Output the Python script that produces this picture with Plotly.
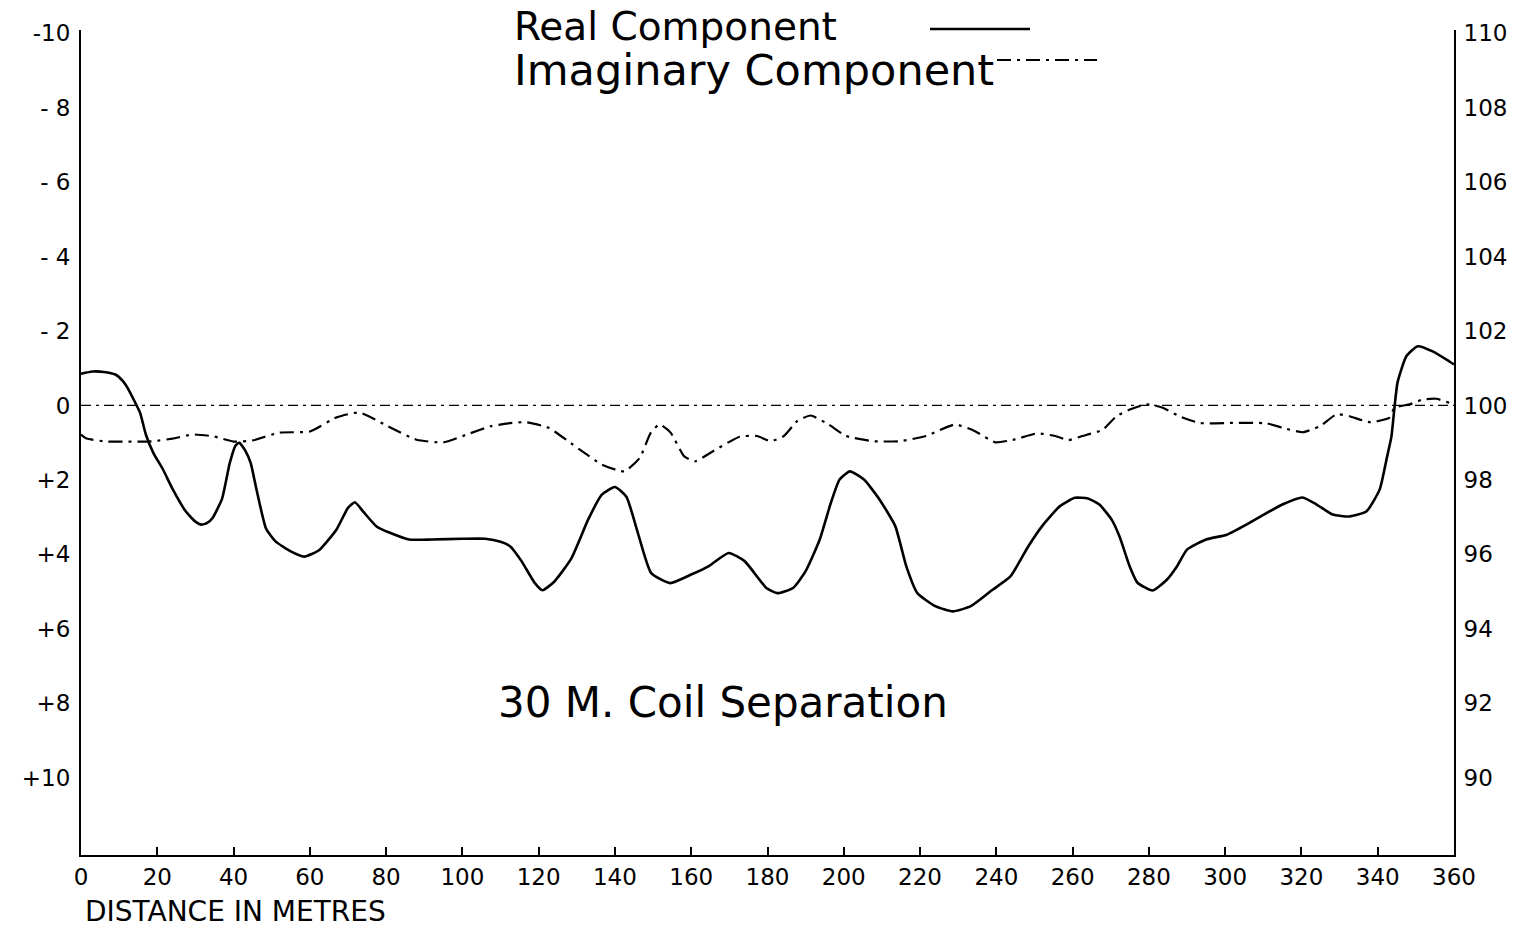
import plotly.graph_objects as go

# ---------------- data ----------------
distance_ticks = list(range(0, 361, 20))

left_tick_vals = [-10, -8, -6, -4, -2, 0, 2, 4, 6, 8, 10]
left_tick_text = ["-10", "- 8", "- 6", "- 4", "- 2", "0", "+2", "+4", "+6", "+8", "+10"]
right_tick_vals = [110, 108, 106, 104, 102, 100, 98, 96, 94, 92, 90]
right_tick_text = [str(v) for v in right_tick_vals]

real_x = [0, 3, 6, 9, 11, 12.5, 14, 15.5, 17, 19, 21.5, 24, 27.5, 30, 31.5, 33, 34.5,
          37, 39, 40.5, 41.5, 43, 44.5, 46, 48.5, 51, 55, 58.5, 62.5, 67, 70, 71.8,
          74, 77.5, 81, 86, 92, 100, 106, 110, 112.5, 115.5, 119, 121, 124, 128.5,
          133, 136.5, 140, 143, 146, 149.5, 154.5, 160, 164.5, 169.8, 174, 179.7,
          182.6, 186.7, 190, 193.7, 196.6, 198.9, 201.6, 205.3, 209.4, 213.5, 216.4,
          219.3, 224, 228.6, 233.3, 239, 243.7, 248.4, 252, 256.6, 260.6, 264, 267,
          270.2, 272.3, 275, 277, 281, 284.7, 287.3, 290, 295, 300.4, 306.4, 315,
          320.3, 324, 328.2, 332.6, 337, 340.5, 342.3, 343.6, 344.4, 345.2, 347.5,
          350.5, 354.4, 358.8, 360]
real_y = [-0.85, -0.91, -0.9, -0.83, -0.65, -0.42, -0.12, 0.2, 0.78, 1.28, 1.72, 2.24,
          2.85, 3.12, 3.2, 3.16, 3.02, 2.5, 1.55, 1.08, 1.0, 1.2, 1.55, 2.25, 3.3, 3.65,
          3.92, 4.06, 3.88, 3.33, 2.75, 2.6, 2.85, 3.25, 3.42, 3.6, 3.6, 3.58, 3.58,
          3.66, 3.78, 4.18, 4.77, 4.96, 4.74, 4.12, 3.06, 2.4, 2.19, 2.45, 3.42, 4.5,
          4.77, 4.54, 4.32, 3.96, 4.18, 4.9, 5.04, 4.9, 4.45, 3.6, 2.62, 1.99, 1.77,
          1.99, 2.53, 3.24, 4.32, 5.04, 5.39, 5.53, 5.39, 4.95, 4.59, 3.78, 3.24, 2.71,
          2.48, 2.5, 2.66, 3.06, 3.52, 4.33, 4.76, 4.97, 4.68, 4.33, 3.87, 3.6, 3.47,
          3.15, 2.66, 2.47, 2.66, 2.93, 2.98, 2.85, 2.26, 1.45, 0.83, 0.05, -0.62,
          -1.32, -1.59, -1.45, -1.18, -1.1]

imag_x = [0, 1.5, 6.8, 13.7, 19, 24, 29.4, 34.7, 40, 45, 52, 60, 67, 73, 80.5, 88, 95,
          102, 107.4, 112, 116.7, 122.6, 130.7, 136.6, 142.4, 146.5, 149.4, 151.7,
          154.6, 158.1, 161, 165.7, 172.7, 177.3, 180.8, 184.3, 187.8, 191.3, 196,
          200.6, 207.6, 214.6, 221.6, 229.2, 234.4, 239.7, 244.9, 250.7, 255.4, 258.9,
          262.6, 267.9, 271.5, 275, 279.4, 283.6, 288, 293.3, 302, 310.9, 315.1, 320.3,
          324.8, 329.2, 332.6, 337.9, 343.1, 344.4, 348.4, 351.8, 355.4, 358.8, 360]
imag_y = [0.78, 0.89, 0.97, 0.97, 0.96, 0.89, 0.78, 0.83, 0.97, 0.94, 0.73, 0.7, 0.32,
          0.19, 0.56, 0.92, 0.99, 0.75, 0.56, 0.48, 0.45, 0.6, 1.18, 1.59, 1.77, 1.41,
          0.73, 0.51, 0.73, 1.36, 1.5, 1.23, 0.84, 0.82, 0.96, 0.82, 0.42, 0.27, 0.51,
          0.82, 0.96, 0.96, 0.82, 0.51, 0.69, 0.99, 0.91, 0.75, 0.82, 0.93, 0.82, 0.65,
          0.29, 0.11, -0.03, 0.06, 0.29, 0.47, 0.47, 0.48, 0.6, 0.72, 0.56, 0.24, 0.29,
          0.45, 0.33, 0.06, -0.03, -0.16, -0.18, -0.07, -0.05]

# ---------------- layout geometry ----------------
# the page body has an 8px default margin, so the figure is shrunk and shifted by it
OFF = 8
W, H = 1522 - OFF, 934 - OFF
ML, MR, MT, MB = 81 - OFF, 68, 30 - OFF, 79
PW, PH = W - ML - MR, H - MT - MB
FONT = "DejaVu Sans"
DASHDOT = "14px,6px,3px,6px"


def px_x(p):
    # p: page pixel x in the reference
    return (p - OFF - ML) / PW


def px_y(p):
    # p: page pixel y in the reference
    return (H - MB - (p - OFF)) / PH


fig = go.Figure()

fig.add_trace(go.Scatter(
    x=real_x, y=real_y, mode="lines", name="Real Component",
    line=dict(color="black", width=2.6, shape="spline", smoothing=0.5),
    showlegend=False,
))
fig.add_trace(go.Scatter(
    x=imag_x, y=imag_y, mode="lines", name="Imaginary Component",
    line=dict(color="black", width=2.2, dash=DASHDOT, shape="spline", smoothing=0.5),
    showlegend=False,
))
# empty trace so that the right-hand scale is drawn
fig.add_trace(go.Scatter(x=[], y=[], yaxis="y2", mode="lines", showlegend=False,
                         hoverinfo="skip"))

# zero reference line
fig.add_shape(type="line", xref="paper", yref="y", x0=0, x1=1, y0=0, y1=0,
              line=dict(color="black", width=1.3, dash="10px,5px,3px,5px"))

# legend-like labels with line samples to the right
fig.add_annotation(text="Real Component", xref="paper", yref="paper",
                   x=px_x(513), y=px_y(27), xanchor="left", yanchor="middle",
                   borderpad=0, showarrow=False,
                   font=dict(family=FONT, size=39, color="black"))
fig.add_annotation(text="Imaginary Component", xref="paper", yref="paper",
                   x=px_x(513), y=px_y(70), xanchor="left", yanchor="middle",
                   borderpad=0, showarrow=False,
                   font=dict(family=FONT, size=43, color="black"))
fig.add_shape(type="line", xref="paper", yref="paper",
              x0=px_x(930), x1=px_x(1030), y0=px_y(29), y1=px_y(29),
              line=dict(color="black", width=2.6))
fig.add_shape(type="line", xref="paper", yref="paper",
              x0=px_x(997), x1=px_x(1097), y0=px_y(60), y1=px_y(60),
              line=dict(color="black", width=2.2, dash=DASHDOT))

fig.add_annotation(text="30 M. Coil Separation", xref="paper", yref="paper",
                   x=px_x(723), y=px_y(702), xanchor="center", yanchor="middle",
                   showarrow=False, font=dict(family=FONT, size=42, color="black"))
fig.add_annotation(text="DISTANCE IN METRES", xref="paper", yref="paper",
                   x=px_x(83), y=px_y(911), xanchor="left", yanchor="middle",
                   showarrow=False, font=dict(family=FONT, size=28, color="black"))

fig.update_layout(
    width=W, height=H,
    margin=dict(l=ML, r=MR, t=MT, b=MB, pad=0),
    paper_bgcolor="white", plot_bgcolor="white",
    font=dict(family=FONT, size=23, color="black"),
    xaxis=dict(range=[0, 360], tickvals=distance_ticks, ticks="inside", ticklen=8,
               tickwidth=2, tickcolor="black", showline=True, linewidth=2,
               linecolor="black", showgrid=False, zeroline=False,
               tickfont=dict(family=FONT, size=23)),
    yaxis=dict(range=[12.07, -10.08], tickvals=left_tick_vals, ticktext=left_tick_text,
               ticks="", showline=True, linewidth=2, linecolor="black",
               showgrid=False, zeroline=False, ticklabelstandoff=4,
               tickfont=dict(family=FONT, size=23)),
    yaxis2=dict(range=[87.93, 110.08], tickvals=right_tick_vals, ticktext=right_tick_text,
                overlaying="y", side="right", anchor="x", ticks="", showline=True,
                linewidth=2, linecolor="black", showgrid=False, zeroline=False,
                ticklabelstandoff=3, tickfont=dict(family=FONT, size=23)),
)

fig.write_html("out.html")
